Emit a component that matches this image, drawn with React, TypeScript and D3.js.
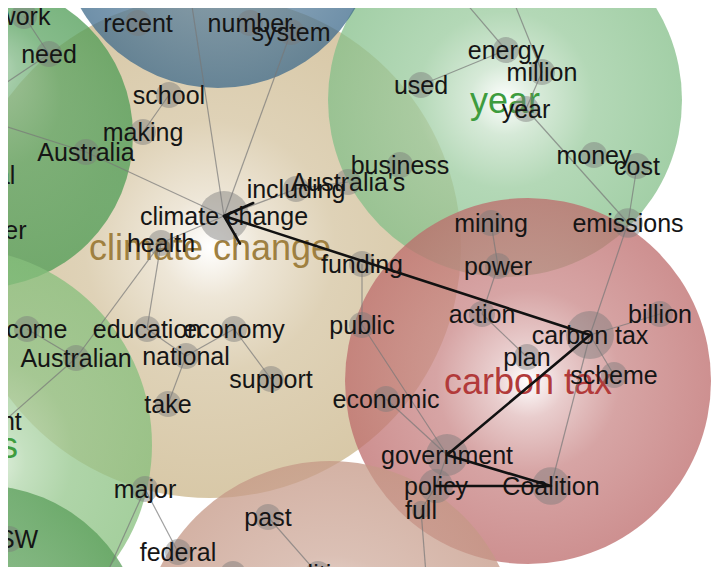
import React from 'react';
import * as d3 from 'd3';

const W = 704;
const H = 559;

// topic clusters (layout units = picture pixels)
const clusters = [
  { id: 'cc', label: 'climate change', x: 210, y: 247, r: 251 },
  { id: 'year', label: 'year', x: 505, y: 100, r: 177 },
  { id: 'tax', label: 'carbon tax', x: 528, y: 381, r: 183 },
  { id: 'blue', label: '', x: 218, y: -70, r: 158 },
  { id: 'g1', label: '', x: -20, y: 135, r: 153 },
  { id: 'g2', label: 'workers', x: -45, y: 445, r: 197 },
  { id: 'g3', label: '', x: -20, y: 650, r: 165 },
  { id: 'pink', label: '', x: 330, y: 650, r: 189 },
];

const clusterColor: Record<string, string> = {
  cc: '#cbb68a',
  year: '#84bf89',
  tax: '#bd6b6b',
  blue: '#3f6b8c',
  g1: '#4e9c55',
  g2: '#86bf7c',
  g3: '#5a9e5a',
  pink: '#c59886',
};

// light spot of each cluster: fx, fy (fraction of its box), colour share at the spot
const glow: Record<string, [number, number, number]> = {
  g1: [0.53, 0.25, 0.5],
  g2: [0.6, 0.55, 0.35],
};

const clusterText: Record<string, string> = {
  cc: '#9f8040',
  year: '#3e9c3e',
  tax: '#b23a3a',
  g2: '#3e9c3e',
};

// terms: position + weight
const nodes = [
  { id: 'work', x: 24, y: 16, w: 1 },
  { id: 'need', x: 49, y: 54, w: 1 },
  { id: 'recent', x: 138, y: 23, w: 1 },
  { id: 'number', x: 250, y: 23, w: 1 },
  { id: 'system', x: 291, y: 32, w: 1 },
  { id: 'school', x: 169, y: 95, w: 1 },
  { id: 'making', x: 143, y: 132, w: 1 },
  { id: 'Australia', x: 86, y: 152, w: 1 },
  { id: 'global', x: -18, y: 175, w: 1 },
  { id: 'water', x: -4, y: 230, w: 1 },
  { id: 'climate change', x: 224, y: 216, w: 3.7 },
  { id: 'health', x: 161, y: 243, w: 1 },
  { id: 'including', x: 296, y: 189, w: 1 },
  { id: "Australia's", x: 348, y: 182, w: 1 },
  { id: 'business', x: 400, y: 165, w: 1 },
  { id: 'used', x: 421, y: 85, w: 1 },
  { id: 'energy', x: 506, y: 50, w: 1 },
  { id: 'million', x: 542, y: 72, w: 1 },
  { id: 'year', x: 526, y: 109, w: 1 },
  { id: 'money', x: 594, y: 155, w: 1 },
  { id: 'cost', x: 637, y: 166, w: 1 },
  { id: 'emissions', x: 628, y: 223, w: 1.3 },
  { id: 'mining', x: 491, y: 223, w: 1 },
  { id: 'power', x: 498, y: 266, w: 1 },
  { id: 'funding', x: 362, y: 264, w: 1 },
  { id: 'public', x: 362, y: 325, w: 1 },
  { id: 'action', x: 482, y: 314, w: 1 },
  { id: 'carbon tax', x: 590, y: 335, w: 3.4 },
  { id: 'billion', x: 660, y: 314, w: 1 },
  { id: 'plan', x: 527, y: 357, w: 1 },
  { id: 'scheme', x: 614, y: 375, w: 1 },
  { id: 'economic', x: 386, y: 399, w: 1 },
  { id: 'government', x: 447, y: 455, w: 2.6 },
  { id: 'policy', x: 436, y: 486, w: 1.7 },
  { id: 'full', x: 421, y: 510, w: 0.5 },
  { id: 'Coalition', x: 551, y: 486, w: 2.1 },
  { id: 'income', x: 27, y: 329, w: 1 },
  { id: 'education', x: 147, y: 329, w: 1 },
  { id: 'economy', x: 234, y: 329, w: 1 },
  { id: 'Australian', x: 76, y: 358, w: 1 },
  { id: 'national', x: 186, y: 356, w: 1 },
  { id: 'support', x: 271, y: 379, w: 1 },
  { id: 'take', x: 168, y: 404, w: 1 },
  { id: 'environment', x: -47, y: 421, w: 1 },
  { id: 'major', x: 145, y: 489, w: 1 },
  { id: 'past', x: 268, y: 517, w: 1 },
  { id: 'federal', x: 178, y: 552, w: 1 },
  { id: 'NSW', x: 9, y: 539, w: 1 },
  { id: 'politics', x: 318, y: 574, w: 1 },
];

// unlabeled ends of links leaving the view
const anchors = [
  { id: 'a1', x: 188, y: -20 },
  { id: 'a2', x: -40, y: 112 },
  { id: 'a3', x: -30, y: 107 },
  { id: 'a4', x: 442, y: -25 },
  { id: 'a5', x: 503, y: -25 },
  { id: 'a6', x: 428, y: 600 },
  { id: 'a7', x: 95, y: 600 },
  { id: 'a8', x: -40, y: 460 },
  { id: 'a9', x: 233, y: 574 },
];

const links: [string, string][] = [
  ['climate change', 'system'], ['climate change', 'a1'], ['climate change', 'Australia'],
  ['Australia', 'a2'], ['school', 'making'], ['need', 'work'], ['need', 'a3'],
  ['climate change', 'including'], ['including', "Australia's"], ['climate change', 'health'],
  ['health', 'education'], ['health', 'Australian'], ['Australian', 'income'], ['Australian', 'a8'],
  ['education', 'national'], ['economy', 'national'], ['national', 'take'], ['economy', 'support'],
  ['used', 'energy'], ['energy', 'a4'], ['million', 'a5'], ['million', 'year'],
  ['year', 'emissions'], ['cost', 'emissions'], ['emissions', 'carbon tax'],
  ['mining', 'power'], ['power', 'action'], ['action', 'plan'],
  ['carbon tax', 'billion'], ['carbon tax', 'scheme'], ['carbon tax', 'Coalition'],
  ['funding', 'public'], ['public', 'government'], ['economic', 'government'],
  ['government', 'policy'], ['policy', 'full'], ['full', 'a6'],
  ['major', 'federal'], ['major', 'a7'], ['past', 'politics'],
];

// reading trail, ends in arrowhead
const trail = ['policy', 'Coalition', 'government', 'carbon tax', 'climate change'];

const x = d3.scaleLinear().domain([8, 712]).range([0, W]);
const y = d3.scaleLinear().domain([8, 567]).range([0, H]);
const rNode = d3.scaleSqrt().domain([0, 1]).range([0, 13]);

const pos = new Map<string, { x: number; y: number }>();
nodes.forEach(n => pos.set(n.id, { x: x(n.x), y: y(n.y) }));
anchors.forEach(a => pos.set(a.id, { x: x(a.x), y: y(a.y) }));

const FONT = '"Liberation Sans", Arial, Helvetica, sans-serif';

export default function App() {
  const pts = trail.map(id => pos.get(id)!);
  const line = d3.line<{ x: number; y: number }>().x(d => d.x).y(d => d.y);
  const tip = pts[pts.length - 1];
  const prev = pts[pts.length - 2];
  const ang = Math.atan2(prev.y - tip.y, prev.x - tip.x);
  const arm = 32;
  const spread = (42 * Math.PI) / 180;
  const head = d3.path();
  head.moveTo(tip.x + arm * Math.cos(ang - spread), tip.y + arm * Math.sin(ang - spread));
  head.lineTo(tip.x, tip.y);
  head.lineTo(tip.x + arm * Math.cos(ang + spread), tip.y + arm * Math.sin(ang + spread));

  return (
    <svg width={W} height={H} style={{ position: 'absolute', left: 8, top: 8, overflow: 'hidden' }}>
      <defs>
        {clusters.map(c => {
          const mix = d3.interpolateRgb('#ffffff', clusterColor[c.id]);
          const f = glow[c.id] ?? [0.5, 0.5, 0];
          const k = f[2];
          return (
            <radialGradient key={c.id} id={'grad-' + c.id} fx={f[0]} fy={f[1]}>
              {[[0, 0], [0.2, 0.45], [0.5, 0.82], [1, 1]].map(([o, t]) => (
                <stop key={o} offset={o} stopColor={mix(k + (1 - k) * t)} />
              ))}
            </radialGradient>
          );
        })}
      </defs>
      <rect width={W} height={H} fill="#fff" />
      <g>
        {clusters.map(c => (
          <circle key={c.id} cx={x(c.x)} cy={y(c.y)} r={x(c.r) - x(0)}
            fill={`url(#grad-${c.id})`} fillOpacity={0.75} />
        ))}
      </g>
      <g fontFamily={FONT} fontSize={36} textAnchor="middle">
        {clusters.filter(c => c.label).map(c => (
          <text key={c.id} x={x(c.x)} y={y(c.y)} dy="0.35em" fill={clusterText[c.id]}>{c.label}</text>
        ))}
      </g>
      <g stroke="#777" strokeWidth={1.2} strokeOpacity={0.7}>
        {links.map(([a, b], i) => {
          const p = pos.get(a)!, q = pos.get(b)!;
          return <line key={i} x1={p.x} y1={p.y} x2={q.x} y2={q.y} />;
        })}
      </g>
      <g fill="#7a7a7a" fillOpacity={0.45}>
        {nodes.map(n => (
          <circle key={n.id} cx={x(n.x)} cy={y(n.y)} r={rNode(n.w)} />
        ))}
        {anchors.map(a => (
          <circle key={a.id} cx={x(a.x)} cy={y(a.y)} r={rNode(1)} />
        ))}
      </g>
      <g fontFamily={FONT} fontSize={25} textAnchor="middle" fill="#151515">
        {nodes.map(n => (
          <text key={n.id} x={x(n.x)} y={y(n.y)} dy="0.35em">{n.id}</text>
        ))}
      </g>
      <g fill="none" stroke="#111" strokeWidth={2.6} strokeLinejoin="round" strokeLinecap="round">
        <path d={line(pts) ?? ''} />
        <path d={head.toString()} />
      </g>
    </svg>
  );
}
